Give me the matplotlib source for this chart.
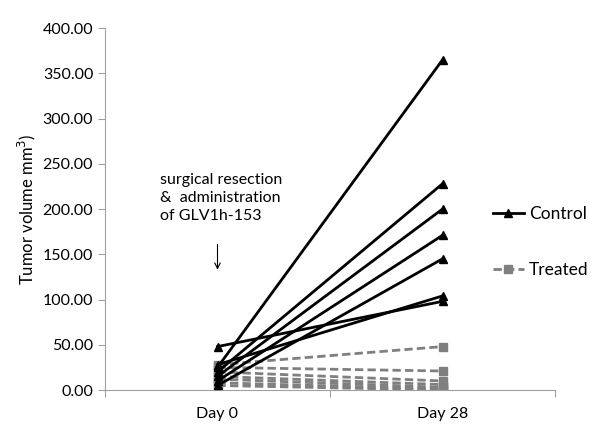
import numpy as np
from matplotlib import pyplot as plt

plt.rcParams['font.family'] = ['Lato', 'DejaVu Sans']

days = ["Day 0", "Day 28"]
control_day0 = [25, 20, 15, 10, 5, 28, 48]
control_day28 = [365, 228, 200, 171, 145, 104, 98]
treated_day0 = [28, 25, 20, 15, 12, 8, 5]
treated_day28 = [48, 21, 10, 6, 3, 1, 0]

fig = plt.figure(figsize=(6, 4.44), dpi=100)
ax = fig.add_axes([0.175, 0.1216, 0.75, 0.815])

x = np.arange(len(days))
for i in range(len(treated_day0)):
    ax.plot(x, [treated_day0[i], treated_day28[i]], color="#7f7f7f", ls=(0, (3, 1.5)),
            lw=2, marker="s", ms=6, label="Treated" if i == 0 else None, zorder=2)
for i in range(len(control_day0)):
    ax.plot(x, [control_day0[i], control_day28[i]], color="black", lw=2,
            marker="^", ms=6, label="Control" if i == 0 else None, zorder=3)

ax.set_xlim(-0.5, 1.5)
ax.set_ylim(0, 400)
ax.set_yticks(np.arange(0, 401, 50))
ax.set_yticklabels([f"{v:.2f}" for v in np.arange(0, 401, 50)], fontsize=11.5)
ax.set_xticks([-0.5, 0.5, 1.5], minor=False)
ax.set_xticklabels([])
ax.set_xticks(x, minor=True)
ax.set_xticklabels(days, minor=True, fontsize=11.5)
ax.tick_params(axis="x", which="minor", length=0, pad=12)
ax.tick_params(axis="both", which="major", color="#a0a0a0", length=5, direction="out")
for s in ["top", "right"]:
    ax.spines[s].set_visible(False)
for s in ["left", "bottom"]:
    ax.spines[s].set_color("#a0a0a0")

ax.set_ylabel("Tumor volume mm$^3$)", fontsize=12)
ax.yaxis.set_label_coords(-0.15, 0.5)

ax.text(-0.255, 212, "surgical resection\n&  administration\nof GLV1h-153", fontsize=11.5,
        va="center", ha="left", linespacing=1.35)
ax.annotate("", xy=(0, 133), xytext=(0, 161),
            arrowprops=dict(arrowstyle="->", color="black", lw=0.8, shrinkA=0, shrinkB=0))

handles, labels = ax.get_legend_handles_labels()
leg = fig.legend(handles[::-1], labels[::-1], loc="center left", bbox_to_anchor=(0.795, 0.455),
                 frameon=False, fontsize=12.5, labelspacing=2.35, handlelength=1.8,
                 handletextpad=0.3, markerscale=0.9)

plt.savefig("out.png", facecolor="white")
